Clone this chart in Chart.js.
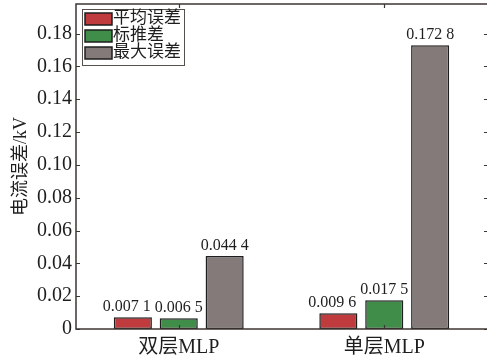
<!DOCTYPE html>
<html>
<head>
<meta charset="utf-8">
<script src="https://cdn.jsdelivr.net/npm/chart.js@4.4.1/dist/chart.umd.min.js"></script>
<style>
  html, body { margin: 0; padding: 0; background: #ffffff; }
  #wrap { width: 487px; height: 362px; position: relative; }
</style>
</head>
<body>
<div id="wrap"><canvas id="c" width="487" height="362"></canvas></div>
<script>
// Model structures compared
const categories = ['双层MLP', '单层MLP'];
// Error statistics (kV)
const meanError = [0.0071, 0.0096];
const stdError = [0.0065, 0.0175];
const maxError = [0.0444, 0.1728];
const seriesNames = ['平均误差', '标推差', '最大误差'];
const valueLabels = [
  ['0.007 1', '0.009 6'],
  ['0.006 5', '0.017 5'],
  ['0.044 4', '0.172 8']
];
const yTickValues = [0, 0.02, 0.04, 0.06, 0.08, 0.10, 0.12, 0.14, 0.16, 0.18];

const SERIF = '"Liberation Serif", "Noto Sans CJK SC", serif';
const AXIS_COLOR = '#3c3632';
const fills = ['#c03b3d', '#3f8d48', '#857a7a'];
// horizontal nudge of each series' value label so neighbours do not collide
const labelShiftX = [-6, 0, 0];

// Frame, inward tick marks, value labels and legend box
const decorations = {
  id: 'decorations',
  afterDatasetsDraw(chart) {
    const ctx = chart.ctx;
    const a = chart.chartArea;
    const xs = chart.scales.x, ys = chart.scales.y;
    // the right-hand frame edge sits just past the canvas edge
    const right = chart.width + 1;
    ctx.save();
    // value labels above bars
    ctx.font = '16px ' + SERIF;
    ctx.fillStyle = '#1e1e1e';
    ctx.textAlign = 'center';
    ctx.textBaseline = 'alphabetic';
    chart.data.datasets.forEach((ds, di) => {
      chart.getDatasetMeta(di).data.forEach((bar, i) => {
        ctx.fillText(valueLabels[di][i], bar.x + labelShiftX[di], bar.y - 6);
      });
    });
    // frame
    ctx.strokeStyle = AXIS_COLOR;
    ctx.lineWidth = 1.5;
    ctx.strokeRect(a.left, a.top, right - a.left, a.bottom - a.top);
    // y tick marks pointing inward on both sides
    ctx.lineWidth = 1.2;
    ys.ticks.forEach(t => {
      const y = Math.round(ys.getPixelForValue(t.value)) + 0.5;
      ctx.beginPath();
      ctx.moveTo(a.left, y); ctx.lineTo(a.left + 4, y);
      ctx.moveTo(right, y); ctx.lineTo(right - 4, y);
      ctx.stroke();
    });
    // x tick marks at category centres, bottom and top
    xs.ticks.forEach((t, i) => {
      const x = Math.round(xs.getPixelForTick(i)) + 0.5;
      ctx.beginPath();
      ctx.moveTo(x, a.bottom); ctx.lineTo(x, a.bottom - 4);
      ctx.moveTo(x, a.top); ctx.lineTo(x, a.top + 4);
      ctx.stroke();
    });
    // legend
    const lx = 82, ly = 9, lw = 102, lh = 56;
    ctx.fillStyle = '#ffffff';
    ctx.fillRect(lx, ly, lw, lh);
    ctx.strokeStyle = '#55504c';
    ctx.lineWidth = 1;
    ctx.strokeRect(lx + 0.5, ly + 0.5, lw, lh);
    ctx.font = '17px ' + SERIF;
    ctx.textAlign = 'left';
    ctx.textBaseline = 'middle';
    chart.data.datasets.forEach((ds, di) => {
      const sy = ly + 4 + di * 17;
      ctx.fillStyle = ds.backgroundColor;
      ctx.fillRect(lx + 3, sy, 27, 12);
      ctx.strokeStyle = '#1e1e1e';
      ctx.lineWidth = 1.5;
      ctx.strokeRect(lx + 3, sy, 27, 12);
      ctx.fillStyle = '#1e1e1e';
      ctx.fillText(ds.label, lx + 31, sy + 6);
    });
    ctx.restore();
  }
};

const seriesValues = [meanError, stdError, maxError];

new Chart(document.getElementById('c'), {
  type: 'bar',
  data: {
    labels: categories,
    datasets: seriesValues.map((vals, i) => ({
      label: seriesNames[i],
      data: vals,
      backgroundColor: fills[i],
      borderColor: '#1e1e1e',
      borderWidth: 1.5,
      borderSkipped: false,
      categoryPercentage: 0.67,
      barPercentage: 0.83
    }))
  },
  options: {
    responsive: false,
    animation: false,
    devicePixelRatio: 1,
    layout: { padding: { top: 4, right: 0, left: 0, bottom: 0 } },
    plugins: { legend: { display: false }, tooltip: { enabled: false } },
    scales: {
      x: {
        type: 'category',
        offset: true,
        grid: { display: false, drawTicks: false },
        border: { display: false },
        ticks: { font: { family: SERIF, size: 20 }, color: '#1e1e1e', padding: 7, maxRotation: 0 },
        afterFit(s) { s.height = 33; s.paddingLeft = 0; s.paddingRight = 0; }
      },
      y: {
        min: 0,
        max: 0.198,
        grid: { display: false, drawTicks: false },
        border: { display: false },
        afterBuildTicks(s) { s.ticks = yTickValues.map(v => ({ value: v })); },
        ticks: {
          font: { family: SERIF, size: 20 },
          color: '#1e1e1e',
          padding: 4,
          callback: v => (v === 0 ? '0' : v.toFixed(2))
        },
        title: {
          display: true,
          text: '电流误差/kV',
          font: { family: SERIF, size: 18 },
          color: '#1e1e1e',
          padding: { top: 10, bottom: 0 }
        },
        afterFit(s) { s.width = 76; s.paddingTop = 0; s.paddingBottom = 0; }
      }
    }
  },
  plugins: [decorations]
});
</script>
</body>
</html>
